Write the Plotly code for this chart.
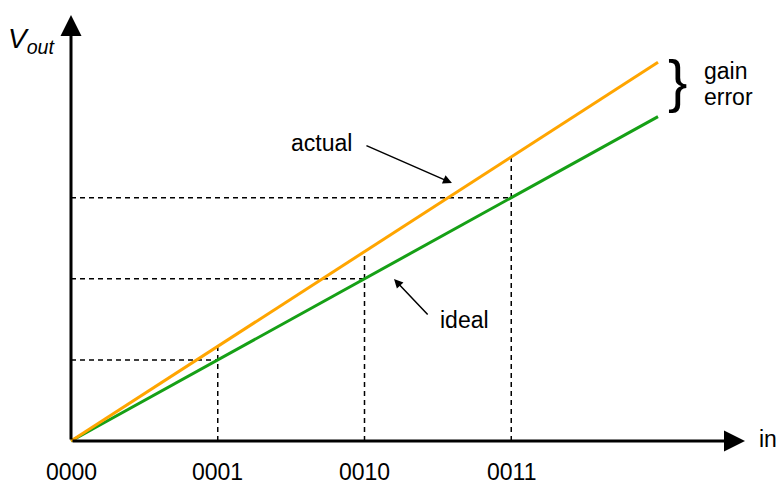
import plotly.graph_objects as go

# digital input codes and output levels (in LSB steps)
codes = ["0000", "0001", "0010", "0011"]
inputs = [0, 1, 2, 3, 4]
ideal = [0, 1, 2, 3, 4]
actual = [0, 1.17, 2.33, 3.5, 4.67]

orange = "#FFA500"
green = "#16A016"
font = "Liberation Sans, Arial, sans-serif"

fig = go.Figure()

# dashed guide lines: horizontal to the ideal line, vertical up to the actual line
for i in range(1, len(codes)):
    fig.add_trace(go.Scatter(x=[0, inputs[i]], y=[ideal[i], ideal[i]], mode="lines",
                             line=dict(color="black", width=1.5, dash="5px,4px"),
                             hoverinfo="skip", showlegend=False))
    fig.add_trace(go.Scatter(x=[inputs[i], inputs[i]], y=[0, actual[i]], mode="lines",
                             line=dict(color="black", width=1.5, dash="5px,4px"),
                             hoverinfo="skip", showlegend=False))

fig.add_trace(go.Scatter(x=inputs, y=ideal, mode="lines", name="ideal",
                         line=dict(color=green, width=3), showlegend=False))
fig.add_trace(go.Scatter(x=inputs, y=actual, mode="lines", name="actual",
                         line=dict(color=orange, width=3), showlegend=False))

# axes with arrow heads
ax_style = dict(xref="x", yref="y", axref="x", ayref="y", text="", showarrow=True,
                arrowhead=2, arrowsize=1.4, arrowwidth=3, arrowcolor="black", standoff=0)
fig.add_annotation(x=4.593, y=0, ax=0, ay=0, **ax_style)
fig.add_annotation(x=0, y=5.253, ax=0, ay=0, **ax_style)

# pointer arrows
ptr = dict(xref="x", yref="y", axref="x", ayref="y", text="", showarrow=True,
           arrowhead=2, arrowsize=1.2, arrowwidth=1.5, arrowcolor="black", standoff=0)
fig.add_annotation(x=2.596, y=3.18, ax=2.003, ay=3.65, **ptr)
fig.add_annotation(x=2.201, y=1.998, ax=2.44, ay=1.541, **ptr)

txt = dict(xref="x", yref="y", showarrow=False, font=dict(family=font, size=23, color="black"))
fig.add_annotation(x=1.71, y=3.67, text="actual", **txt)
fig.add_annotation(x=2.678, y=1.492, text="ideal", **txt)
fig.add_annotation(x=4.30, y=4.562, text="gain", xanchor="left", **txt)
fig.add_annotation(x=4.30, y=4.242, text="error", xanchor="left", **txt)
fig.add_annotation(x=4.675, y=0.02, text="in", xanchor="left", **txt)
fig.add_annotation(x=-0.44, y=4.944, text="<i>V<sub>out</sub></i>", xanchor="left",
                   xref="x", yref="y", showarrow=False,
                   font=dict(family=font, size=28, color="black"))
fig.add_annotation(x=4.136, y=4.44, text="}", xref="x", yref="y", showarrow=False,
                   font=dict(family=font, size=58, color="black"))

for i, c in enumerate(codes):
    fig.add_annotation(x=inputs[i], y=-0.382, text=c, **txt)

fig.update_xaxes(range=[-0.4838, 4.8586], visible=False)
fig.update_yaxes(range=[-0.5425, 5.4377], visible=False)
fig.update_layout(width=784, height=485, margin=dict(l=0, r=0, t=0, b=0),
                  plot_bgcolor="white", paper_bgcolor="white")

fig.write_html("out.html", config={"displayModeBar": False},
               post_script="document.body.style.margin='0';")
